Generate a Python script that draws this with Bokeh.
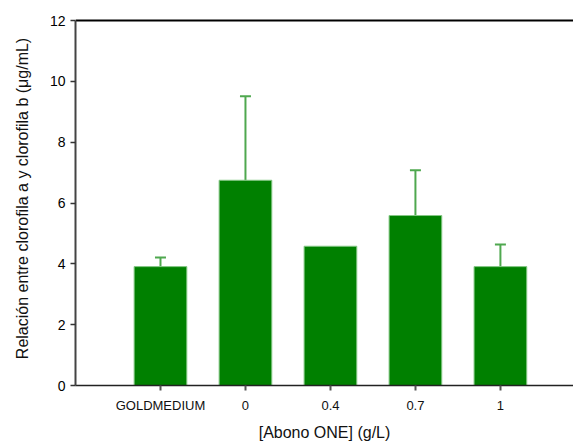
from bokeh.plotting import figure
from bokeh.models import (ColumnDataSource, Whisker, TeeHead, FixedTicker,
                          Range1d)
from bokeh.embed import file_html
from bokeh.resources import INLINE

# Chlorophyll a/b ratio per treatment
categories = ["GOLDMEDIUM", "0", "0.4", "0.7", "1"]
ratio = [3.91, 6.75, 4.58, 5.59, 3.91]
error = [0.30, 2.76, 0.0, 1.49, 0.73]
y_ticks = [0, 2, 4, 6, 8, 10, 12]

positions = [i + 1 for i in range(len(categories))]

FONT = "Liberation Sans"

x_range = Range1d(0, 5.86)
p = figure(width=573, height=443, output_backend="svg", toolbar_location=None,
           x_range=x_range, y_range=Range1d(0, max(y_ticks) + 0.3),
           min_border_left=75, min_border_right=0, min_border_top=11,
           min_border_bottom=58)
p.outline_line_color = None
p.background_fill_color = "white"
p.border_fill_color = "white"
p.xgrid.visible = False
p.ygrid.visible = False

# top border line at the highest y tick
p.line(x=[x_range.start, x_range.end], y=[max(y_ticks)] * 2,
       line_color="black", line_width=2)

src = ColumnDataSource(dict(x=positions, top=ratio))
p.vbar(x="x", top="top", width=0.62, bottom=0, source=src,
       fill_color="#008000", line_color="#86c886", line_width=1)

# upper error bars only where an error was measured
ex = [x for x, e in zip(positions, error) if e > 0]
eb = [v for v, e in zip(ratio, error) if e > 0]
eu = [v + e for v, e in zip(ratio, error) if e > 0]
esrc = ColumnDataSource(dict(base=ex, lower=eb, upper=eu))
p.add_layout(Whisker(source=esrc, base="base", lower="lower", upper="upper",
                     line_color="#4fa84f", line_width=2,
                     lower_head=None,
                     upper_head=TeeHead(size=11, line_color="#4fa84f",
                                        line_width=2)))

# x axis
xa = p.xaxis[0]
xa.ticker = FixedTicker(ticks=positions)
xa.major_label_overrides = {pos: c for pos, c in zip(positions, categories)}
xa.minor_tick_line_color = None
xa.major_tick_in = 0
xa.major_tick_out = 5
xa.major_tick_line_color = "#555555"
xa.major_tick_line_width = 2
xa.axis_line_color = "#222222"
xa.axis_line_width = 1.5
xa.major_label_text_font = FONT
xa.major_label_text_font_size = "13px"
xa.major_label_text_color = "#111111"
xa.major_label_standoff = 7
xa.axis_label = "[Abono ONE] (g/L)"
xa.axis_label_text_font = FONT
xa.axis_label_text_font_size = "16px"
xa.axis_label_text_font_style = "normal"
xa.axis_label_text_color = "#111111"
xa.axis_label_standoff = 8

# y axis
ya = p.yaxis[0]
ya.ticker = FixedTicker(ticks=y_ticks)
ya.bounds = (min(y_ticks), max(y_ticks))
ya.minor_tick_line_color = None
ya.major_tick_in = 0
ya.major_tick_out = 5
ya.major_tick_line_color = "#333333"
ya.major_tick_line_width = 1.5
ya.axis_line_color = "#444444"
ya.axis_line_width = 2
ya.major_label_text_font = FONT
ya.major_label_text_font_size = "14px"
ya.major_label_text_color = "#000000"
ya.major_label_standoff = 5
ya.axis_label = "Relación entre clorofila a y clorofila b (μg/mL)"
ya.axis_label_text_font = FONT
ya.axis_label_text_font_size = "16px"
ya.axis_label_text_font_style = "normal"
ya.axis_label_text_color = "#111111"
ya.axis_label_standoff = 16

open("out.html", "w").write(file_html(p, INLINE))
